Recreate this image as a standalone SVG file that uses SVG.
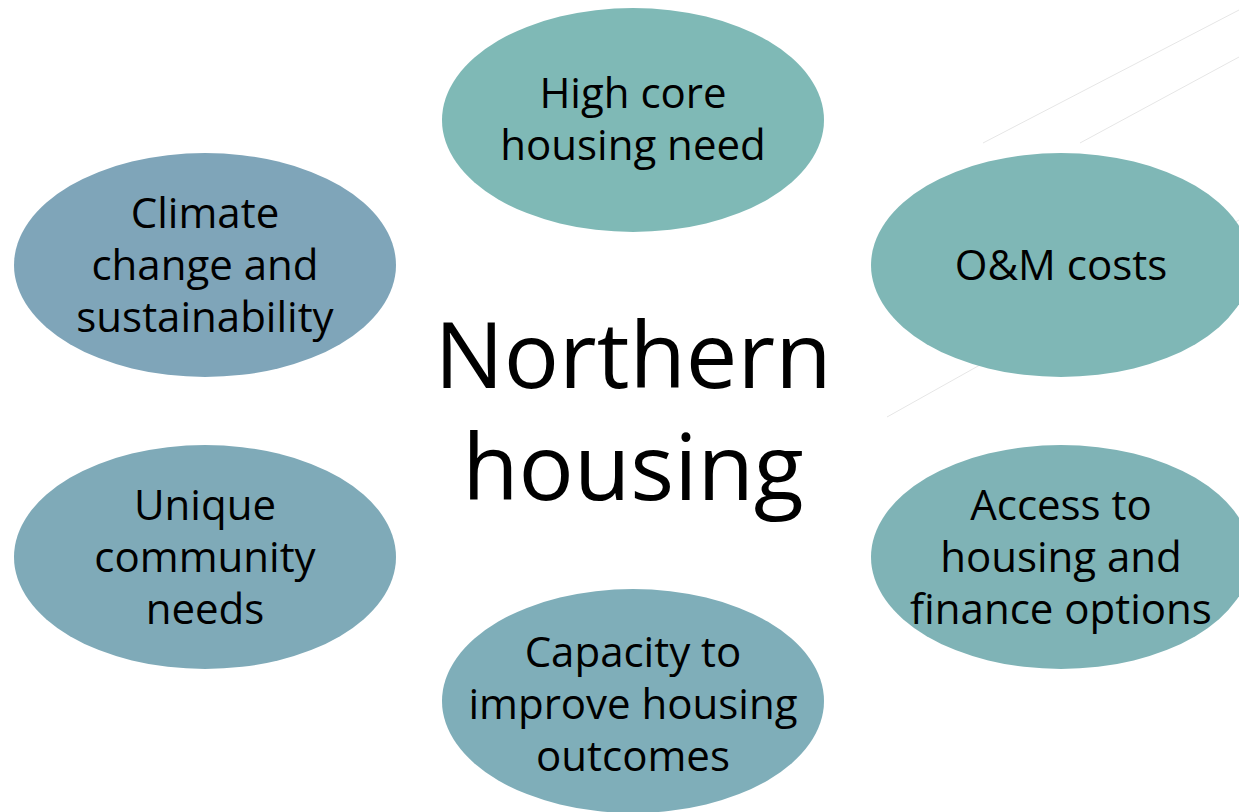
<svg xmlns="http://www.w3.org/2000/svg" width="1239" height="812" viewBox="0 0 1239 812">
<style>
.lbl{font-family:"Open Sans","Noto Sans",sans-serif;font-size:42px;fill:#000;text-anchor:middle}
.title{font-family:"Open Sans","Noto Sans",sans-serif;font-size:92px;fill:#000;text-anchor:middle}
.deco{stroke:#e6e6e6;stroke-width:1;fill:none}
</style>
<rect width="1239" height="812" fill="#fff"/>
<g id="decor">
<line class="deco" x1="887" y1="417" x2="1239" y2="220"/>
<line class="deco" x1="983" y1="143" x2="1239" y2="10"/>
<line class="deco" x1="1080" y1="143" x2="1239" y2="57"/>
</g>
<g id="connectors"></g>
<g id="n-top">
<ellipse cx="633" cy="120" rx="191" ry="112" fill="#7fb9b6"/>
<text class="lbl" x="633" y="108">High core</text>
<text class="lbl" x="633" y="160">housing need</text>
</g>
<g id="n-om">
<ellipse cx="1061" cy="265" rx="190" ry="112" fill="#7fb7b6"/>
<text class="lbl" x="1061" y="280">O&amp;M costs</text>
</g>
<g id="n-climate">
<ellipse cx="205" cy="265" rx="191" ry="112" fill="#7fa5b9"/>
<text class="lbl" x="205" y="228">Climate</text>
<text class="lbl" x="205" y="280">change and</text>
<text class="lbl" x="205" y="332">sustainability</text>
</g>
<g id="n-unique">
<ellipse cx="205" cy="557" rx="191" ry="112" fill="#7faab8"/>
<text class="lbl" x="205" y="520">Unique</text>
<text class="lbl" x="205" y="572">community</text>
<text class="lbl" x="205" y="624">needs</text>
</g>
<g id="n-access">
<ellipse cx="1061" cy="557" rx="190" ry="112" fill="#7fb3b6"/>
<text class="lbl" x="1061" y="520">Access to</text>
<text class="lbl" x="1061" y="572">housing and</text>
<text class="lbl" x="1061" y="624">finance options</text>
</g>
<g id="n-capacity">
<ellipse cx="633" cy="701" rx="191" ry="112" fill="#7faeb9"/>
<text class="lbl" x="633" y="667">Capacity to</text>
<text class="lbl" x="633" y="719">improve housing</text>
<text class="lbl" x="633" y="771">outcomes</text>
</g>
<g id="n-center">
<text class="title" x="633" y="388">Northern</text>
<text class="title" x="633" y="500">housing</text>
</g>
</svg>
